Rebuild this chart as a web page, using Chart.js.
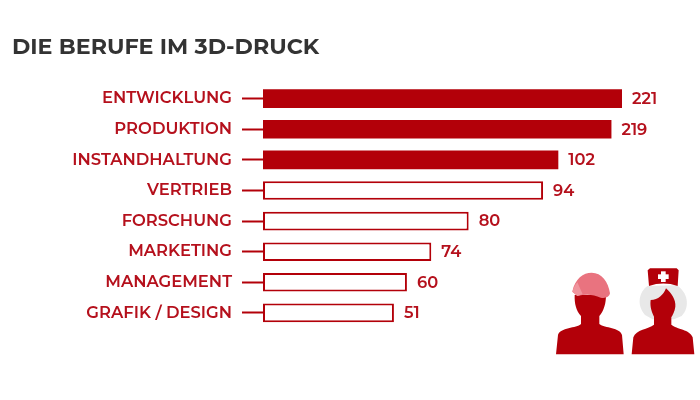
<!DOCTYPE html>
<html>
<head>
<meta charset="utf-8">
<style>
  html, body { margin: 0; padding: 0; background: #fff; }
  canvas { display: block; }
</style>
<script src="https://cdn.jsdelivr.net/npm/chart.js@4/dist/chart.umd.min.js"></script>
</head>
<body>
<canvas id="chart" width="700" height="400"></canvas>
<script>
const chartTitle = 'DIE BERUFE IM 3D-DRUCK'
const categories = ['ENTWICKLUNG', 'PRODUKTION', 'INSTANDHALTUNG', 'VERTRIEB', 'FORSCHUNG', 'MARKETING', 'MANAGEMENT', 'GRAFIK / DESIGN']
// printed numbers
const printedValues = [221, 219, 102, 94, 80, 74, 60, 51]
// bar lengths as drawn in the picture, they are not proportional to the printed numbers
const barLengths = [221, 214.5, 181.8, 172.4, 126.6, 103.6, 88.6, 80.6]
const filledBars = [true, true, true, false, false, false, false, false]

const red = '#b30009'
const labelRed = '#b5101c'
const fontName = 'Montserrat, Inter, "Noto Sans", sans-serif'

const valueLabels = {
    id: 'valueLabels',
    afterDatasetsDraw(chart) {
        const ctx = chart.ctx
        const bars = chart.getDatasetMeta(0).data
        ctx.save()
        ctx.font = '600 16.3px ' + fontName
        ctx.fillStyle = labelRed
        ctx.textAlign = 'left'
        ctx.textBaseline = 'middle'
        for (let i = 0; i < bars.length; i++) {
            ctx.fillText(printedValues[i], bars[i].x + 10, bars[i].y + 0.5)
        }
        ctx.restore()
    }
}

// the two figures at the bottom right, decoration only
const figures = {
    id: 'figures',
    afterDraw(chart) {
        const ctx = chart.ctx
        ctx.save()
        ctx.translate(530, 250)
        ctx.scale(1 / 3, 1 / 3)

        // worker body
        ctx.fillStyle = red
        ctx.beginPath()
        ctx.moveTo(78, 313)
        ctx.lineTo(84, 255)
        ctx.bezierCurveTo(90, 232, 140, 235, 153, 222)
        ctx.lineTo(153, 198)
        ctx.bezierCurveTo(138, 182, 133, 160, 134, 135)
        ctx.lineTo(228, 135)
        ctx.bezierCurveTo(228, 160, 222, 182, 208, 198)
        ctx.lineTo(208, 222)
        ctx.bezierCurveTo(225, 235, 270, 232, 276, 255)
        ctx.lineTo(281, 313)
        ctx.closePath()
        ctx.fill()

        // helmet
        ctx.fillStyle = '#e9737f'
        ctx.beginPath()
        ctx.moveTo(127, 125)
        ctx.bezierCurveTo(135, 85, 160, 68, 185, 68)
        ctx.bezierCurveTo(215, 68, 235, 95, 240, 130)
        ctx.bezierCurveTo(238, 142, 225, 146, 212, 143)
        ctx.bezierCurveTo(190, 132, 165, 132, 142, 138)
        ctx.closePath()
        ctx.fill()

        // lighter facet on the helmet
        ctx.fillStyle = '#f0949d'
        ctx.beginPath()
        ctx.moveTo(127, 125)
        ctx.bezierCurveTo(130, 115, 135, 105, 142, 97)
        ctx.lineTo(158, 133)
        ctx.lineTo(142, 138)
        ctx.closePath()
        ctx.fill()

        // nurse hair
        ctx.fillStyle = '#e8e8e8'
        ctx.beginPath()
        ctx.moveTo(352, 108)
        ctx.bezierCurveTo(328, 125, 318, 165, 345, 195)
        ctx.lineTo(368, 208)
        ctx.lineTo(432, 208)
        ctx.lineTo(455, 198)
        ctx.bezierCurveTo(482, 170, 472, 125, 440, 106)
        ctx.closePath()
        ctx.fill()

        // nurse body
        ctx.fillStyle = red
        ctx.beginPath()
        ctx.moveTo(305, 313)
        ctx.lineTo(310, 262)
        ctx.bezierCurveTo(318, 238, 355, 238, 372, 224)
        ctx.lineTo(372, 200)
        ctx.bezierCurveTo(362, 180, 360, 165, 362, 150)
        ctx.bezierCurveTo(385, 150, 400, 135, 408, 115)
        ctx.bezierCurveTo(425, 130, 438, 150, 436, 170)
        ctx.bezierCurveTo(434, 185, 428, 195, 424, 202)
        ctx.lineTo(424, 224)
        ctx.bezierCurveTo(440, 238, 480, 238, 488, 262)
        ctx.lineTo(493, 313)
        ctx.closePath()
        ctx.fill()

        // nurse cap
        ctx.beginPath()
        ctx.moveTo(360, 55)
        ctx.lineTo(440, 55)
        ctx.lineTo(446, 61)
        ctx.lineTo(443, 108)
        ctx.bezierCurveTo(415, 98, 385, 98, 357, 108)
        ctx.lineTo(353, 61)
        ctx.closePath()
        ctx.fill()

        // cross on the cap
        ctx.fillStyle = '#ffffff'
        ctx.fillRect(393, 64, 14, 32)
        ctx.fillRect(384, 73, 32, 14)
        ctx.restore()
    }
}

new Chart(document.getElementById('chart'), {
    type: 'bar',
    data: {
        labels: categories,
        datasets: [{
            data: barLengths,
            backgroundColor: filledBars.map(f => f ? red : '#ffffff'),
            borderColor: red,
            borderWidth: filledBars.map(f => f ? 0 : 2),
            borderSkipped: false,
            barPercentage: 1,
            categoryPercentage: 18.6 / 30.6
        }]
    },
    options: {
        indexAxis: 'y',
        responsive: false,
        animation: false,
        layout: { padding: { left: 12, right: 78, top: 0, bottom: 71.8 } },
        plugins: {
            legend: { display: false },
            tooltip: { enabled: false },
            title: {
                display: true,
                text: chartTitle,
                align: 'start',
                color: '#333333',
                font: { family: fontName, size: 22.2, weight: '700' },
                padding: { top: 34, bottom: 22.7 }
            }
        },
        scales: {
            x: { display: false, min: 0, max: 221 },
            y: {
                afterFit(scale) { scale.width = 251 },
                border: { display: false },
                grid: { drawOnChartArea: false, drawTicks: true, tickLength: 21, tickWidth: 2, tickColor: red, offset: false },
                ticks: {
                    color: labelRed,
                    padding: 10,
                    font: { family: fontName, size: 16.4, weight: '600' }
                }
            }
        }
    },
    plugins: [valueLabels, figures]
})
</script>
</body>
</html>
